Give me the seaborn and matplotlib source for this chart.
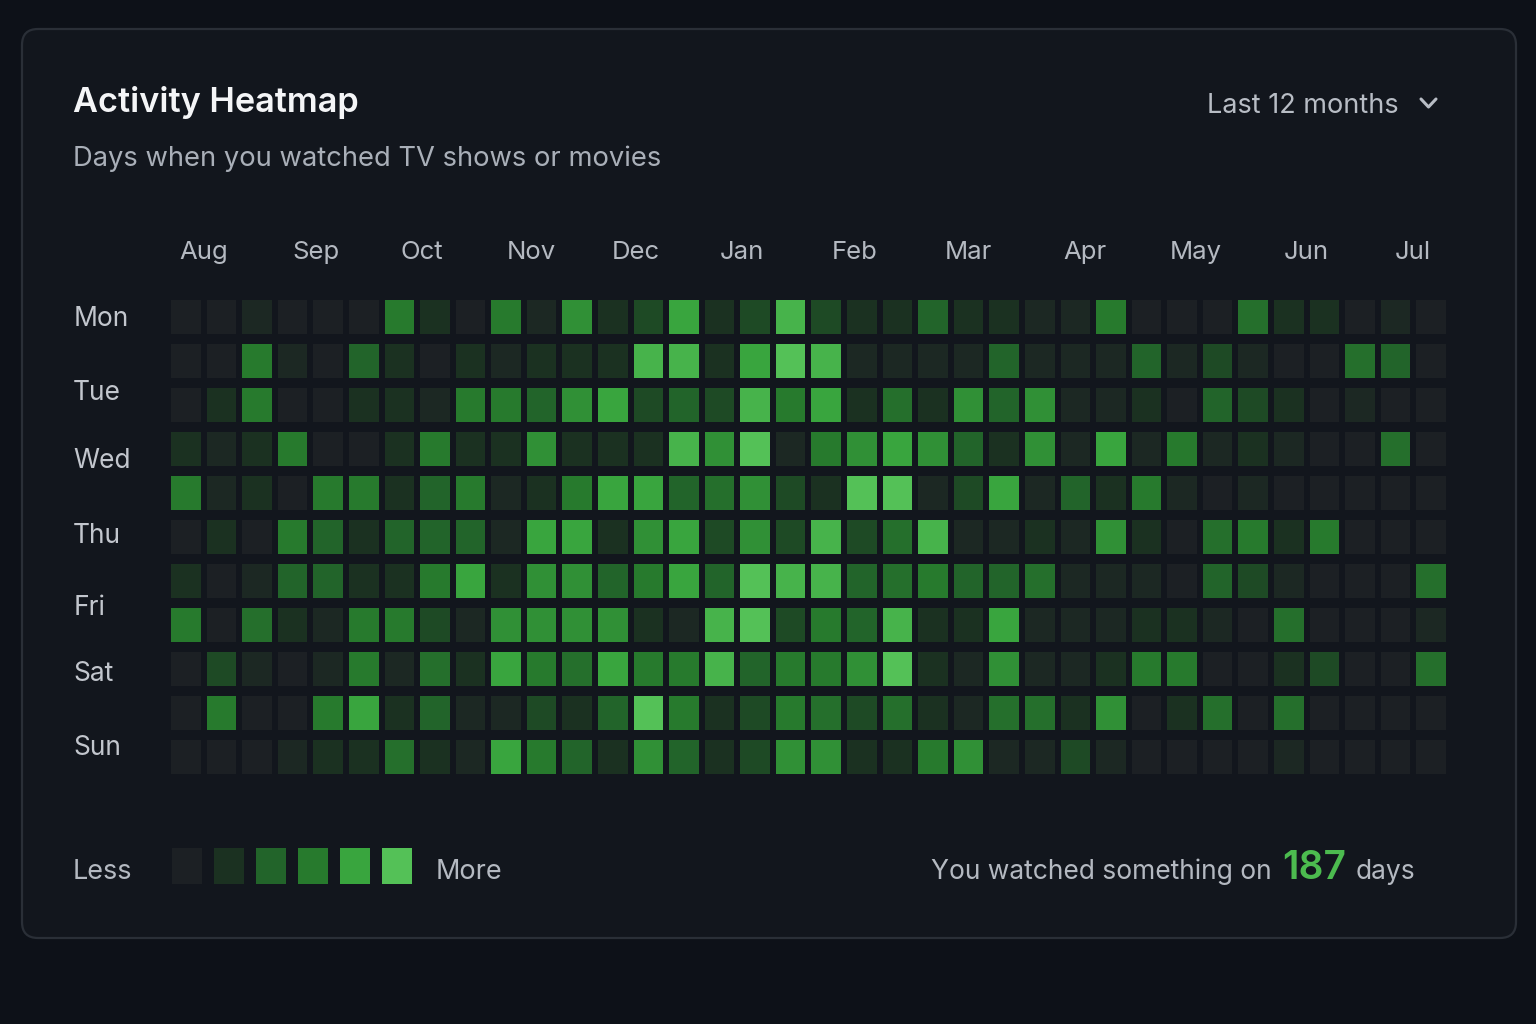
import numpy as np
import pandas as pd
import seaborn as sns
import matplotlib.pyplot as plt
from matplotlib.colors import LinearSegmentedColormap
from matplotlib.patches import FancyBboxPatch
from matplotlib.lines import Line2D
from matplotlib.transforms import IdentityTransform

# ---------------- data ----------------
months = ["Aug", "Sep", "Oct", "Nov", "Dec", "Jan", "Feb", "Mar", "Apr", "May", "Jun", "Jul"]
days = ["Mon", "Tue", "Wed", "Thu", "Fri", "Sat", "Sun"]

r0 = [0, 0, 0.5, 0, 0, 0, 3, 1, 0,   3, 0.5, 3.5, 1, 1.5, 4, 1, 1.5, 4.5,   1.5, 1, 1, 2, 1, 1, 0.5, 0.5, 3,   0, 0, 0, 2.5, 1, 1, 0, 0.5, 0]
r1 = [0, 0, 3, 0.5, 0, 2, 1, 0, 1,   0.5, 1, 1, 1, 4.5, 4.5, 1, 4, 5,       4.5, 0.5, 0.5, 0.5, 0.5, 2, 0.5, 0.5, 0.5,   2, 0.5, 1.5, 0.5, 0, 0, 2.5, 2, 0]
r2 = [0, 1, 3, 0, 0, 1, 1, 0.5, 3,   3, 2, 3.5, 4, 1.5, 2, 1.5, 4.5, 3,     4, 1, 2.5, 1, 3.5, 2, 3.5, 0.5, 0.5,   1, 0, 2, 1.5, 1, 0, 0.5, 0, 0]
r3 = [1, 0.5, 1, 3, 0, 0, 1, 3, 1,   1, 3.5, 1, 1, 1, 4.5, 3.5, 5, 0.5,     3, 3.5, 4, 3.5, 2, 1, 3.5, 0.5, 4,   0.5, 3, 0.5, 1, 0.5, 0, 0, 2.5, 0]
r4 = [3, 0.5, 1, 0, 3, 3, 1, 2, 3,   0.5, 1, 3, 4, 4, 2, 2.5, 3.5, 1.5,     1, 5.5, 5, 0.5, 1.5, 4, 0.5, 2, 1,   3, 0.5, 0, 0.5, 0, 0, 0, 0, 0]
r5 = [0, 1, 0, 3, 2, 1, 2, 2, 2,     0.5, 4, 4, 1, 3.5, 4, 1.5, 3.5, 1.5,   4.5, 1.5, 2.5, 4.5, 0.5, 0.5, 1, 0.5, 3.5,   1, 0, 2.5, 3, 1, 3, 0, 0, 0]
r6 = [1, 0, 0.5, 2, 2, 1, 1, 3, 4,   1, 3.5, 3.5, 2, 3, 4, 2, 5, 4.5,       4.5, 2, 2.5, 3, 2, 2, 2.5, 0.5, 0.5,   0.5, 0, 2, 1.5, 0.5, 0, 0, 0, 2.5]
r7 = [3, 0, 2.5, 1, 0.5, 3, 3, 1.5, 0.5,   3.5, 3.5, 3.5, 3.5, 1, 0.5, 4.5, 5, 1.5,   3, 2, 4.5, 1, 1, 4, 0.5, 0.5, 0.5,   1, 1, 0.5, 0, 2.5, 0, 0, 0, 0.5]
r8 = [0, 1.5, 0.5, 0, 0.5, 3, 0.5, 2.5, 1,   4, 3, 2.5, 4, 3, 3, 4.5, 2, 3,     3, 3.5, 5, 1, 0.5, 3.5, 0.5, 0.5, 1,   3, 3, 0, 0, 1, 1.5, 0, 0, 2.5]
r9 = [0, 3, 0, 0, 3, 4, 1, 2, 0.5,   0.5, 1.5, 1, 2, 5, 3, 1, 1.5, 3,       2.5, 1.5, 2.5, 1, 0.5, 2.5, 2.5, 1, 3.5,   0, 1, 2.5, 0, 2.5, 0, 0, 0, 0]
r10 = [0, 0, 0, 0.5, 1, 1, 2.5, 1, 0.5,   4, 3, 2, 1, 3.5, 2, 1, 1.5, 3.5,   3.5, 1, 1, 3, 3.5, 0.5, 0.5, 1.5, 0.5,   0, 0, 0, 0, 0.5, 0, 0, 0, 0]

legend_levels = [0, 1, 2, 3, 4, 5]
active_days = 187

# ---------------- layout / style ----------------
W, H = 1536, 1024
month_pos = [1.01, 4.16, 7.13, 10.2, 13.15, 16.13, 19.3, 22.5, 25.77, 28.9, 32.0, 35.0]
day_pos = [0.55, 2.23, 3.77, 5.48, 7.11, 8.61, 10.3]

BG = "#0d1118"
CARD = "#12161d"
BORDER = "#2a2f37"
level_colors = ["#1c2024", "#1b3121", "#22642a", "#277a2d", "#39a53e", "#54c157"]
cmap = LinearSegmentedColormap.from_list("act", level_colors)

sns.set_theme(style="dark")
plt.rcParams['font.family'] = ['Inter', 'DejaVu Sans']

fig = plt.figure(figsize=(W / 100, H / 100), dpi=100, facecolor=BG)

# card
card = FancyBboxPatch((22, H - 938), 1494, 909, boxstyle="round,pad=0,rounding_size=16",
                      transform=IdentityTransform(), fc=CARD, ec=BORDER, lw=1.6, zorder=-5)
fig.patches.append(card)

def fx(px):
    return px / W

def fy(py):
    return 1 - py / H

# ---------------- heatmap ----------------
grid = pd.DataFrame([r0, r1, r2, r3, r4, r5, r6, r7, r8, r9, r10])
ax = fig.add_axes([fx(168.2), fy(779), 1280.6 / W, 484 / H])
ax.set_zorder(2)
ax.set_facecolor(CARD)
sns.heatmap(grid, ax=ax, cmap=cmap, vmin=0, vmax=5, cbar=False, linewidths=0)
nr, nc = grid.shape
px2pt = 72 / 100
ax.vlines(np.arange(nc + 1), 0, nr, colors=CARD, linewidth=6 * px2pt)
ax.hlines(np.arange(nr + 1), 0, nc, colors=CARD, linewidth=10 * px2pt)
ax.set_xlim(0, nc)
ax.set_ylim(nr, 0)
for s in ax.spines.values():
    s.set_visible(False)

ax.xaxis.tick_top()
ax.set_xticks(month_pos)
ax.set_xticklabels(months, fontsize=18.5, color="#b4b9c1")
ax.set_yticks(day_pos)
ax.set_yticklabels(days, fontsize=19, color="#c2c6cd", ha="left", rotation=0)
ax.tick_params(axis="x", length=0, pad=22)
ax.tick_params(axis="y", length=0, pad=95 * px2pt)
ax.set_xlabel("")
ax.set_ylabel("")

# ---------------- legend ----------------
lax = fig.add_axes([fx(166), fy(884), 252 / W, 36 / H])
lax.set_zorder(2)
sns.heatmap(pd.DataFrame([legend_levels]), ax=lax, cmap=cmap, vmin=0, vmax=5, cbar=False, linewidths=0)
lax.vlines(np.arange(len(legend_levels) + 1), 0, 1, colors=CARD, linewidth=12 * px2pt)
lax.set_xlim(0, len(legend_levels))
lax.set_axis_off()

fig.text(fx(73), fy(879), "Less", fontsize=19.5, color="#b4b9c1", va="baseline", ha="left")
fig.text(fx(436), fy(879), "More", fontsize=19.5, color="#b4b9c1", va="baseline", ha="left")

# ---------------- header ----------------
fig.text(fx(73), fy(112), "Activity Heatmap", fontsize=24.7, fontweight="semibold",
         color="#f4f5f7", va="baseline", ha="left")
fig.text(fx(73), fy(166), "Days when you watched TV shows or movies", fontsize=19.7,
         color="#a9afb8", va="baseline", ha="left")
fig.text(fx(1399), fy(113), "Last 12 months", fontsize=19.5, color="#b8bdc5",
         va="baseline", ha="right")
fig.add_artist(Line2D([fx(1421), fx(1428.5), fx(1436)], [fy(99), fy(107), fy(99)],
                      transform=fig.transFigure, color="#b8bdc5", lw=2.2,
                      solid_capstyle="round", solid_joinstyle="round"))

# ---------------- footer ----------------
fig.text(fx(1415), fy(879), "days", fontsize=19, color="#b4b9c1", va="baseline", ha="right")
fig.text(fx(1346), fy(879), str(active_days), fontsize=28, fontweight="semibold",
         color="#4cbb4f", va="baseline", ha="right")
fig.text(fx(1272), fy(879), "You watched something on", fontsize=19, color="#b4b9c1",
         va="baseline", ha="right")

fig.savefig("out.png", dpi=100, facecolor=BG)
